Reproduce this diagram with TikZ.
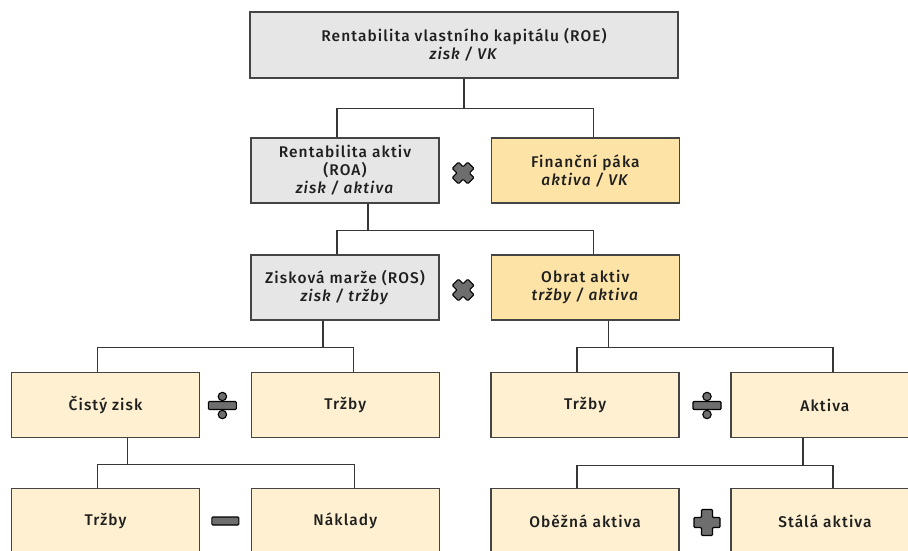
\documentclass[tikz,border=0pt]{standalone}
\usepackage{fontspec}
\setmainfont{Fira Sans}[UprightFont=* Medium,ItalicFont=* Medium Italic,LetterSpace=7]
\usepackage{xcolor}
\usepackage{tikz}
\usetikzlibrary{chains,positioning,calc}

\definecolor{boxgray}{HTML}{E6E6E6}
\definecolor{boxgold}{HTML}{FDE3A6}
\definecolor{boxcream}{HTML}{FEF0D0}
\definecolor{boxline}{HTML}{444444}
\definecolor{opgray}{HTML}{6E6E6E}

% operator signs, drawn round a named coordinate
\newcommand{\optimes}[1]{\begin{scope}[shift={(#1)},rotate=45]
    \draw[opsym] (-4.4,11) -- (4.4,11) -- (4.4,4.4) -- (11,4.4) -- (11,-4.4) -- (4.4,-4.4) -- (4.4,-11)
        -- (-4.4,-11) -- (-4.4,-4.4) -- (-11,-4.4) -- (-11,4.4) -- (-4.4,4.4) -- cycle;
    \end{scope}}
\newcommand{\opplus}[1]{\begin{scope}[shift={(#1)}]
    \draw[opsym] (-5.5,13) -- (5.5,13) -- (5.5,5) -- (13,5) -- (13,-5) -- (5.5,-5) -- (5.5,-13)
        -- (-5.5,-13) -- (-5.5,-5) -- (-13,-5) -- (-13,5) -- (-5.5,5) -- cycle;
    \end{scope}}
\newcommand{\opminus}[1]{\begin{scope}[shift={(#1)}]
    \draw[opsym] (-13.5,-4) rectangle (13.5,4);
    \end{scope}}
\newcommand{\opdiv}[1]{\begin{scope}[shift={(#1)}]
    \draw[opsym] (0,9) circle (4.2);
    \draw[opsym] (0,-9) circle (4.2);
    \draw[opsym] (-14,-4) rectangle (14,4);
    \end{scope}}

\begin{document}
\begin{tikzpicture}[x=1pt,y=1pt]
        \tikzstyle{box}=[draw=boxline,line width=1.3pt,minimum width=188pt,minimum height=65pt,
            align=center,inner sep=2pt,text=black!88,font=\fontsize{15.5}{18}\selectfont]
        \tikzstyle{link}=[draw=boxline!80!black,line width=1.3pt]
        \tikzstyle{opsym}=[fill=opgray,draw=black,line width=1.1pt,rounded corners=1pt]

        \useasboundingbox (0,0) rectangle (908,-550);
        \clip (0,0) rectangle (908,-550);

        %% ROE
        \node [box,fill=boxgray,minimum width=428pt,minimum height=66pt] (roe) at (464,-45)
            {Rentabilita vlastního kapitálu (ROE)\\\textit{zisk / VK}};

        %% ROA x paka
        \begin{scope}[shift={(345,-170.5)},start chain=2 going right,node distance=51pt]
            \node [on chain=2,box,fill=boxgray] (roa) {Rentabilita aktiv\\(ROA)\\\textit{zisk / aktiva}};
            \node [on chain=2,box,fill=boxgold] (paka) {Finanční páka\\\textit{aktiva / VK}};
        \end{scope}

        %% ROS x obrat
        \begin{scope}[shift={(345,-287.5)},start chain=3 going right,node distance=51pt]
            \node [on chain=3,box,fill=boxgray] (ros) {Zisková marže (ROS)\\\textit{zisk / tržby}};
            \node [on chain=3,box,fill=boxgold] (obrat) {Obrat aktiv\\\textit{tržby / aktiva}};
        \end{scope}

        %% fourth row
        \begin{scope}[shift={(105.5,-405)},start chain=4 going right,node distance=50.5pt]
            \node [on chain=4,box,fill=boxcream] (zisk) {Čistý zisk};
            \node [on chain=4,box,fill=boxcream] (trzbyA) {Tržby};
            \node [on chain=4,box,fill=boxcream] (trzbyB) {Tržby};
            \node [on chain=4,box,fill=boxcream] (aktiva) {Aktiva};
        \end{scope}

        %% fifth row
        \begin{scope}[shift={(105.5,-521)},start chain=5 going right,node distance=50.5pt]
            \node [on chain=5,box,fill=boxcream] (trzbyC) {Tržby};
            \node [on chain=5,box,fill=boxcream] (naklady) {Náklady};
            \node [on chain=5,box,fill=boxcream] (obezna) {Oběžná aktiva};
            \node [on chain=5,box,fill=boxcream] (stala) {Stálá aktiva};
        \end{scope}

        %% connectors
        \draw [link] (roe.south) -- ++(0,-30) coordinate (j1);
        \draw [link] (j1) -| ([xshift=-8pt]roa.north);
        \draw [link] (j1) -| ([xshift=8pt]paka.north);

        \draw [link] ([xshift=23pt]roa.south) -- ++(0,-27) coordinate (j2);
        \draw [link] (j2) -| ([xshift=-8pt]ros.north);
        \draw [link] (j2) -| ([xshift=8pt]obrat.north);

        \draw [link] ([xshift=-22pt]ros.south) -- ++(0,-27) coordinate (j3);
        \draw [link] (j3) -| ([xshift=-8pt]zisk.north);
        \draw [link] (j3) -| ([xshift=8pt]trzbyA.north);

        \draw [link] ([xshift=23pt]obrat.south) -- ++(0,-27) coordinate (j4);
        \draw [link] (j4) -| ([xshift=-8pt]trzbyB.north);
        \draw [link] (j4) -| ([xshift=8pt]aktiva.north);

        \draw [link] ([xshift=22pt]zisk.south) -- ++(0,-26) coordinate (j5);
        \draw [link] (j5) -| ([xshift=-8pt]trzbyC.north);
        \draw [link] (j5) -| ([xshift=9pt]naklady.north);

        \draw [link] ([xshift=-22pt]aktiva.south) -- ++(0,-27) coordinate (j6);
        \draw [link] (j6) -| ([xshift=-8pt]obezna.north);
        \draw [link] (j6) -| ([xshift=8pt]stala.north);

        %% operators
        \coordinate (op1) at ($(roa.east)!.5!(paka.west)+(-2,-2.5)$);
        \coordinate (op2) at ($(ros.east)!.5!(obrat.west)+(-2,-2.5)$);
        \coordinate (op3) at ($(zisk.east)!.5!(trzbyA.west)+(-3,-0.5)$);
        \coordinate (op4) at ($(trzbyB.east)!.5!(aktiva.west)+(2,-0.5)$);
        \coordinate (op5) at ($(trzbyC.east)!.5!(naklady.west)$);
        \coordinate (op6) at ($(obezna.east)!.5!(stala.west)+(2,-1.5)$);
        \optimes{op1}
        \optimes{op2}
        \opdiv{op3}
        \opdiv{op4}
        \opminus{op5}
        \opplus{op6}

    \end{tikzpicture}
\end{document}
